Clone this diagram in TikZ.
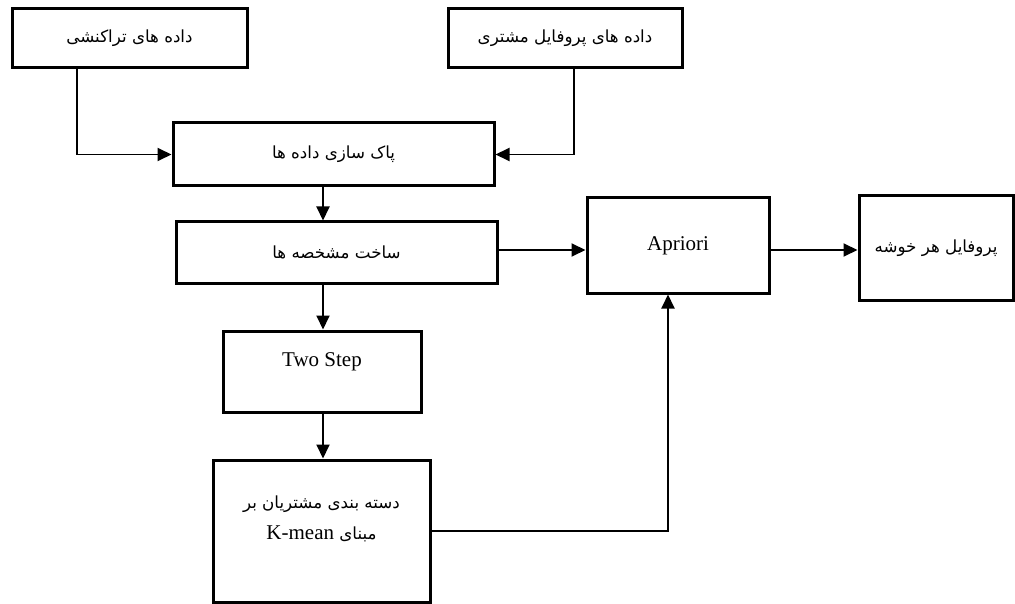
\documentclass[tikz,border=0pt]{standalone}
\usepackage{fontspec}
\setmainfont{Liberation Serif}
\newfontfamily\fa[Script=Arabic]{DejaVu Sans}
\TeXXeTstate=1
\usetikzlibrary{arrows.meta,calc}
\begin{document}
\begin{tikzpicture}[x=1pt,y=-1pt,
  box/.style={draw, line width=3pt, inner sep=0pt},
  fatext/.style={font=\fa\fontsize{16.7}{22}\selectfont},
  lat/.style={font=\rmfamily\fontsize{21}{24}\selectfont},
  conn/.style={line width=1.9pt, -{Triangle[length=14pt,width=13pt]}},
  con/.style={line width=1.9pt}]
\useasboundingbox (0,0) rectangle (1015,604);

% boxes
\node[box, fatext, minimum width=235pt, minimum height=59pt] (b1) at (129.5,38.5) {\beginR داده های تراکنشی\endR};
\node[box, fatext, minimum width=234pt, minimum height=59pt] (b2) at (565,38.5) {\beginR داده های پروفایل مشتری\endR};
\node[box, fatext, minimum width=321pt, minimum height=63pt] (b3) at (333.5,154.5) {\beginR پاک سازی داده ها\endR};
\node[box, fatext, minimum width=321pt, minimum height=61pt] (b4) at (336.5,252.5) {\beginR ساخت مشخصه ها\endR};
\node[box, lat, minimum width=182pt, minimum height=95pt] (ap) at (678,245.5) {Apriori};
\node[box, fatext, minimum width=154pt, minimum height=104pt] (pr) at (936,248) {\beginR پروفایل هر خوشه\endR};
\node[box, minimum width=198pt, minimum height=81pt] (ts) at (322,371.5) {};
\node[lat, inner sep=0pt] (tsl) at (322,362) {Two Step};
\node[box, minimum width=217pt, minimum height=142pt] (km) at (321.5,531) {};
\node[fatext, align=center, inner sep=0pt] (kml) at (321.5,519)
  {\beginR دسته بندی مشتریان بر\endR\\[9pt]\beginR مبنای \beginL{\rmfamily\fontsize{21}{24}\selectfont K-mean}\endL\endR};

% connectors
\draw[conn] (b1.south -| 77,0) |- (b3.west);
\draw[conn] (b2.south -| 574,0) |- (b3.east);
\draw[conn] (b3.south -| 323,0) -- (b4.north -| 323,0);
\draw[conn] (b4.east |- 0,250) -- (ap.west |- 0,250);
\draw[conn] (ap.east |- 0,250) -- (pr.west |- 0,250);
\draw[conn] (b4.south -| 323,0) -- (ts.north -| 323,0);
\draw[conn] (ts.south -| 323,0) -- (km.north -| 323,0);
\draw[conn] (km.east) -| (ap.south -| 668,0);
\end{tikzpicture}
\end{document}
